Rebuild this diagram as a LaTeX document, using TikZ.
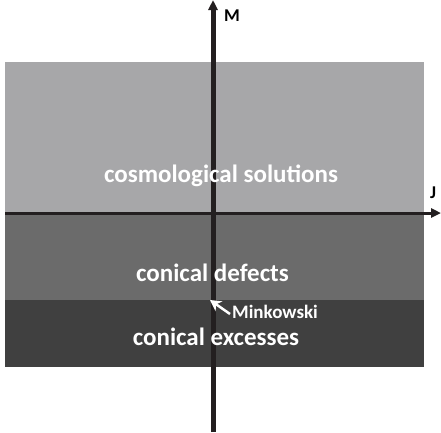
\documentclass[tikz,border=0pt]{standalone}
\usepackage{fontspec}
\setmainfont{Carlito}
\usetikzlibrary{arrows.meta}
\definecolor{topgray}{HTML}{A7A7A9}
\definecolor{midgray}{HTML}{6B6B6B}
\definecolor{lowgray}{HTML}{404040}
\definecolor{axiscol}{HTML}{231F20}
\tikzset{
  region/.style={font=\bfseries\fontsize{25}{27}\selectfont, text=white, inner sep=0pt, anchor=base},
  axislabel/.style={font=\bfseries\fontsize{18}{20}\selectfont, text=black, inner sep=0pt, anchor=base},
  axis/.style={draw=axiscol, -{Triangle[length=10pt,width=9pt]}},
}
\begin{document}
\begin{tikzpicture}[x=1pt,y=-1pt]
\useasboundingbox (0,0) rectangle (441,432);
\fill[topgray] (5,62) rectangle (424,213);
\fill[midgray] (5,213) rectangle (424,300);
\fill[lowgray] (5,300) rectangle (424,367);
\coordinate (hstart) at (5,213);
\coordinate (hend) at (441,213);
\coordinate (vstart) at (213,432);
\coordinate (vend) at (213,0);
\coordinate (origin) at (210,300);
\coordinate (tail) at (230,314);
\draw[axis, line width=3pt] (hstart) -- (hend);
\draw[axis, line width=5pt] (vstart) -- (vend);
\node[region] (cosmo) at (221,182) {cosmological solutions};
\node[region] (defects) at (212.5,281) {conical defects};
\node[region] (excess) at (216,345) {conical excesses};
\node[axislabel] (M) at (232,21) {M};
\node[axislabel] (J) at (433,198) {J};
\node[font=\bfseries\fontsize{19}{21}\selectfont, text=white, inner sep=0pt, anchor=base west] (mink) at (232,318) {Minkowski};
\draw[white, line width=2.5pt, -{Stealth[length=11pt,width=12pt]}] (tail) -- (origin);
\end{tikzpicture}
\end{document}
